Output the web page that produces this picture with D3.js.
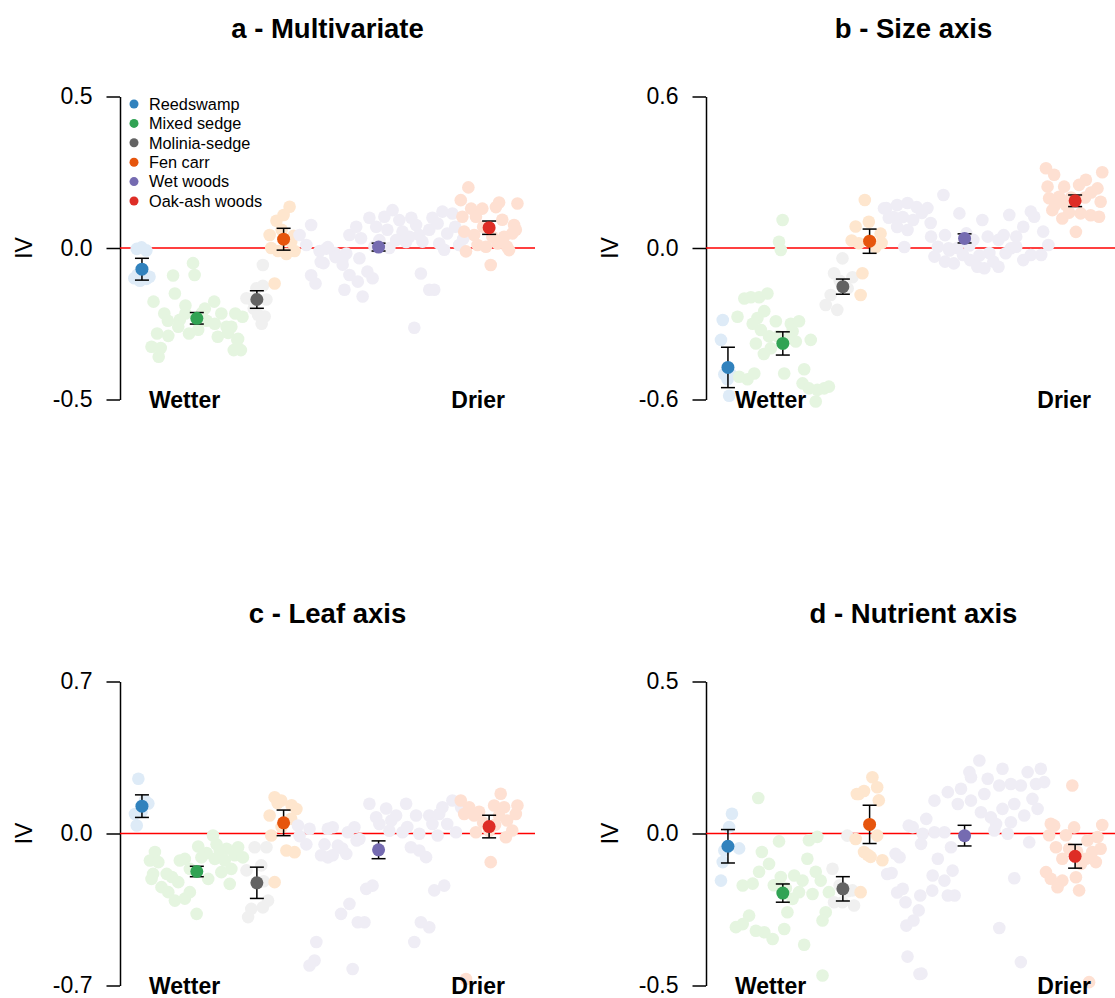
<!DOCTYPE html>
<html>
<head>
<meta charset="utf-8">
<script src="https://cdn.jsdelivr.net/npm/d3@7"></script>
<style>
body { margin: 0; background: #fff; }
svg { display: block; font-family: "Liberation Sans", Arial, Helvetica, sans-serif; }
</style>
</head>
<body>
<div id="chart"></div>
<script>
// community types, in the order they are drawn
var groups = ["Reedswamp", "Mixed sedge", "Molinia-sedge", "Fen carr", "Wet woods", "Oak-ash woods"];
var darkColors = ["#3182bd", "#31a354", "#636363", "#e6550d", "#756bb1", "#de2d26"];
var lightColors = ["#deebf7", "#e5f5e0", "#f0f0f0", "#fee6ce", "#efedf5", "#fee0d2"];

// position of each group mean along the wetness gradient
var meanX = [5.5, 19.25, 34.3, 41, 64.8, 92.5];

// a - Multivariate : site points [gradient position, IV]
var aReed = [[4.2,-0.003],[5.4,0.002],[6.6,-0.008],[3.6,-0.1],[5.0,-0.108],[6.6,-0.102],[7.4,-0.095],[4.4,-0.088]];
var aMixed = [[18.3,-0.05],[18.7,-0.089],[13.3,-0.091],[13.75,-0.15],[8.4,-0.177],[11.1,-0.216],[12,-0.24],[15,-0.237],[16.4,-0.19],
  [9.3,-0.282],[12.1,-0.29],[7.9,-0.326],[9.7,-0.359],[10.2,-0.33],[17.3,-0.282],[19.6,-0.27],[21.25,-0.2],[23.6,-0.177],[25.4,-0.216],
  [26.7,-0.26],[27.9,-0.26],[29.6,-0.3],[29.4,-0.304],[24.5,-0.293],[28.9,-0.216],[30.7,-0.227],[21.7,-0.24],[23.75,-0.25],[27.1,-0.28],
  [14.6,-0.26],[16.4,-0.216],[20.5,-0.215],[28.5,-0.337],[30.3,-0.337]];
var aMolinia = [[35.8,-0.056],[34.2,-0.133],[35.8,-0.125],[31.7,-0.166],[33,-0.17],[36.7,-0.17],[34.6,-0.221],[36.25,-0.226],[35.5,-0.25],[33.5,-0.2]];
var aFen = [[42.5,0.136],[41,0.109],[39.2,0.09],[37.5,0.043],[37.9,0.0],[39.6,-0.01],[41.7,-0.02],[43.75,-0.01],[42.9,0.02],[38.75,-0.117],[40.5,0.06],[43.5,0.04]];
var aWet = [[47.9,0.076],[45,0.043],[46.7,0.01],[50,-0.01],[51,-0.05],[47.9,-0.09],[49,-0.117],[50.3,-0.046],[52.1,0.003],[53.9,-0.017],[55.7,-0.04],
  [51.7,-0.002],[54,-0.03],[56.7,-0.018],[55.8,-0.055],[60,-0.034],[57.5,-0.089],[59.6,-0.111],[62,-0.078],[63.3,-0.1],[56.25,-0.138],
  [60.8,-0.16],[75.4,-0.084],[77.5,-0.138],[78.75,-0.138],[73.75,-0.263],[57.5,0.043],[60.4,0.032],[59.2,0.07],[62.5,0.1],[64.2,0.07],
  [66.25,0.103],[68.3,0.125],[70,0.092],[67,0.06],[70.8,0.054],[72.5,0.037],[74.2,0.076],[75,0.043],[77.5,0.06],[79.6,0.081],[80.8,0.12],
  [83.3,0.114],[82,0.048],[80,0.015],[81.25,-0.006],[85,0.01],[69.2,0.026],[71.7,0.02],[75.8,0.021],[65,0.026],[67.5,0.0],[63.75,0.005],
  [73,0.1],[78.3,0.1],[84,0.07],[86,0.03]];
var aOak = [[87.3,0.2],[85.4,0.158],[88,0.13],[90.8,0.13],[95,0.15],[99.6,0.147],[94.2,0.135],[85.8,0.103],[89.2,0.103],[95.8,0.093],
  [98.75,0.076],[86.25,0.054],[88.75,0.043],[93.3,0.037],[96.25,0.037],[98.3,0.048],[89.6,0.01],[91.7,0.004],[94.6,0.015],[97,0.004],
  [86.7,-0.011],[97.5,-0.007],[92.9,-0.056],[91,0.07],[99.2,0.06]];
var aMeans = [-0.07, -0.232, -0.17, 0.029, 0.003, 0.067];
var aErr = [0.036, 0.019, 0.029, 0.036, 0.013, 0.022];

// b - Size axis
var bReed = [[4.2,-0.285],[3.75,-0.364],[4.6,-0.5],[5.4,-0.52],[5.8,-0.585],[6.2,-0.5]];
var bMixed = [[19.2,0.111],[18.3,0.025],[18.75,-0.008],[9.6,-0.2],[11.25,-0.195],[13.3,-0.195],[15.4,-0.18],[7.9,-0.272],[14.6,-0.25],
  [12.9,-0.277],[11.7,-0.3],[17.5,-0.29],[21.25,-0.3],[23.3,-0.29],[13.75,-0.325],[15.8,-0.35],[12.5,-0.378],[21.7,-0.33],[22.5,-0.37],
  [26.25,-0.364],[16.25,-0.397],[19.6,-0.497],[8.3,-0.51],[10.4,-0.52],[12.1,-0.497],[24.6,-0.48],[24.2,-0.536],[25.8,-0.556],[27.9,-0.562],
  [29.6,-0.556],[30.8,-0.549],[27.5,-0.608],[18,-0.35],[20.5,-0.36],[14.5,-0.42]];
var bMolinia = [[34.2,-0.041],[32.1,-0.1],[36.7,-0.116],[31.25,-0.186],[32.9,-0.245],[30,-0.226],[35.5,-0.16],[33.5,-0.13]];
var bFen = [[39.8,0.19],[40.8,0.104],[37.5,0.085],[43.75,0.057],[38.3,0.019],[42.5,0.004],[39.2,-0.1],[38.75,-0.186],[41,0.03],[44,0.02],[36.5,0.03]];
var bWet = [[45.2,0.158],[47.9,0.17],[50.5,0.178],[52.8,0.162],[55.5,0.158],[54.1,0.139],[49.3,0.123],[47,0.123],[51.9,0.111],[56.3,0.099],
  [47.9,0.083],[50.5,0.071],[49.7,0.004],[44.6,0.157],[45.8,0.12],[59.5,0.21],[56.4,0.045],[59.9,0.051],[58.1,0.005],[60.8,-0.001],
  [57.25,-0.034],[59.9,-0.054],[62.1,-0.061],[64.4,-0.028],[66.2,-0.048],[68,-0.074],[69.75,-0.08],[72,-0.054],[73.3,-0.074],[75.1,-0.021],
  [76.4,-0.001],[77.75,0.005],[79.5,-0.048],[81.4,-0.028],[84,-0.028],[85.8,0.012],[84.5,0.065],[82.25,0.124],[79.5,0.084],[81.4,0.144],
  [76,0.131],[69.25,0.111],[63.5,0.137],[65.25,0.058],[67,0.032],[70.6,0.045],[73.3,0.032],[74.6,0.051],[77.75,0.045],[61,-0.01],
  [63,0.0],[66,0.01],[71,-0.02],[68.5,-0.03]];
var bOak = [[85.2,0.316],[87.25,0.29],[99.3,0.3],[95.2,0.27],[85.6,0.243],[89.75,0.243],[93.5,0.25],[98.1,0.236],[86,0.197],[88.5,0.203],
  [90.2,0.17],[98.9,0.183],[86.8,0.15],[89.3,0.117],[93.9,0.137],[96.4,0.13],[98.5,0.124],[92.7,0.064],[91.5,0.2],[95,0.2],[87.5,0.17],
  [96.5,0.22],[91,0.14]];
var bMeans = [-0.473, -0.378, -0.153, 0.027, 0.038, 0.187];
var bErr = [0.08, 0.046, 0.03, 0.048, 0.018, 0.023];

// c - Leaf axis
var cReed = [[4.6,0.252],[6.25,0.152],[7.1,0.138],[3.75,0.09],[4.2,0.037],[5.4,0.1]];
var cMixed = [[23.3,-0.009],[24.2,-0.05],[19.6,-0.06],[21.7,-0.09],[26.7,-0.07],[29.6,-0.063],[8.75,-0.085],[7.5,-0.124],[9.6,-0.132],
  [15,-0.124],[16.25,-0.117],[20.4,-0.11],[23.75,-0.117],[26.25,-0.124],[28.75,-0.1],[30.8,-0.11],[8.3,-0.186],[7.9,-0.209],[11.7,-0.186],
  [14.6,-0.224],[17.5,-0.163],[22.1,-0.209],[25.4,-0.178],[27.9,-0.163],[27.5,-0.232],[10.4,-0.247],[12.1,-0.27],[13.75,-0.309],
  [16.25,-0.3],[17.5,-0.27],[19.2,-0.37],[13,-0.2],[25,-0.08]];
var cMolinia = [[33.75,-0.063],[36.7,-0.063],[35.4,-0.147],[31.7,-0.17],[37.1,-0.309],[35.8,-0.34],[32.9,-0.347],[32.1,-0.385],[36,-0.22]];
var cFen = [[38.75,0.167],[40.4,0.152],[44.2,0.113],[37.5,0.083],[42.9,0.068],[37.9,-0.009],[41.7,-0.078],[43.75,-0.086],[38.75,-0.224],
  [39.5,0.14],[43,0.13],[40.5,0.03]];
var cWet = [[44.6,0.037],[47.5,0.022],[45,-0.012],[46.7,-0.05],[52.1,0.022],[51.25,-0.05],[50.4,-0.1],[52.1,-0.11],[49.2,-0.5],
  [48.75,-0.585],[47.5,-0.608],[62.5,0.137],[66.7,0.115],[71.7,0.137],[64.2,0.075],[69.2,0.083],[74.2,0.083],[77.5,0.083],[80.8,0.121],
  [83.3,0.152],[53.3,0.029],[58.75,0.029],[57.1,0.006],[60,-0.025],[67.5,0.013],[70.8,0.006],[75,-0.001],[79.6,-0.009],[84.2,0.006],
  [65,0.044],[78.3,0.044],[82,0.044],[53.3,-0.1],[56.7,-0.094],[54.6,-0.055],[72.9,-0.063],[75,-0.078],[76.7,-0.109],[61.7,-0.255],
  [63.3,-0.24],[78.75,-0.262],[81.25,-0.24],[55.4,-0.37],[57.5,-0.324],[59.6,-0.409],[61.25,-0.409],[75.4,-0.409],[77.5,-0.432],
  [73.75,-0.5],[58.3,-0.624],[68,0.06],[72,0.03],[80,0.09],[85.5,0.12],[55.7,-0.069],[59.3,-0.032]];
var cOak = [[85.4,0.152],[87.5,0.121],[95.4,0.183],[93.75,0.129],[96.25,0.121],[99.6,0.129],[99.2,0.09],[86.25,0.09],[88.75,0.083],
  [95,0.083],[97,0.06],[98.3,0.014],[89.2,0.006],[92.5,0.013],[96.7,-0.017],[92.9,-0.132],[86.7,-0.67],[91,0.05],[94,0.04],[90,0.1]];
var cMeans = [0.126, -0.175, -0.227, 0.049, -0.075, 0.032];
var cErr = [0.052, 0.024, 0.072, 0.059, 0.041, 0.052];

// d - Nutrient axis
var dReed = [[6.5,0.065],[5.8,0.021],[4.6,-0.056],[4.2,-0.094],[3.75,-0.155],[8.3,-0.049]];
var dMixed = [[13.1,0.117],[18.3,-0.026],[25.8,-0.022],[27.9,-0.011],[14,-0.061],[25.4,-0.083],[15.8,-0.1],[13.3,-0.126],[18.75,-0.143],
  [22.1,-0.138],[24.2,-0.155],[27.5,-0.126],[28.75,-0.155],[9.2,-0.171],[11.7,-0.165],[23.3,-0.193],[26.7,-0.199],[30.8,-0.193],
  [21.7,-0.215],[20.4,-0.259],[30,-0.259],[29.2,-0.286],[10.8,-0.27],[9.2,-0.298],[7.5,-0.308],[12.5,-0.32],[14.6,-0.325],[16.7,-0.347],
  [19.6,-0.314],[24.6,-0.366],[29.2,-0.467],[17,-0.17],[20,-0.18]];
var dMolinia = [[35.4,-0.007],[31.7,-0.116],[36.7,-0.187],[34.2,-0.226],[37.1,-0.237],[32.1,-0.226],[33.5,-0.17],[35.5,-0.19]];
var dFen = [[41.7,0.185],[42.9,0.152],[38.3,0.13],[39.6,0.14],[43.3,0.109],[37.5,-0.018],[42.9,-0.007],[39.6,-0.061],[41.25,-0.077],
  [44.2,-0.088],[38.75,-0.193],[40.5,-0.07],[37.8,0.13]];
var dWet = [[47.5,-0.067],[45.4,-0.133],[50,-0.226],[50.2,-0.303],[50.8,0.026],[46.5,-0.13],[47.9,-0.194],[53.7,-0.204],[56.7,-0.188],
  [53.3,-0.253],[52,-0.286],[50.5,-0.405],[54,-0.461],[62.3,-0.204],[68.5,0.24],[66,0.202],[66.4,0.185],[74.3,0.213],[70.6,0.18],
  [80.6,0.202],[83.9,0.213],[84.75,0.169],[73.5,0.158],[76.4,0.163],[78.9,0.158],[82.7,0.163],[57.25,0.108],[60.6,0.136],[63.9,0.147],
  [63.1,0.097],[66.4,0.108],[69.75,0.13],[74.3,0.081],[77.25,0.097],[81.8,0.114],[68.9,0.07],[71.4,0.053],[72.7,0.031],[83.1,0.081],
  [76.4,0.037],[79.75,0.059],[55.2,0.048],[51.8,0.021],[54.3,-0.001],[57.25,0.004],[59.75,0.004],[72.25,0.01],[75.6,-0.001],[53.9,-0.034],
  [61.4,-0.045],[81,-0.029],[48.5,-0.078],[58.1,-0.083],[61.8,-0.122],[56.8,-0.138],[59.75,-0.155],[77.25,-0.147],[49.3,-0.182],
  [60.6,-0.204],[73.5,-0.311],[53.5,-0.462],[78.9,-0.423]];
var dOak = [[91.8,0.158],[86.4,0.032],[87.25,0.026],[92.25,0.02],[99.3,0.028],[86,-0.006],[90.2,-0.006],[95.6,-0.023],[98.1,-0.012],
  [87.7,-0.045],[89.3,-0.083],[96.8,-0.061],[98.9,-0.05],[95.2,-0.083],[97.7,-0.094],[85.2,-0.127],[86.4,-0.149],[89.3,-0.155],
  [88.1,-0.177],[92.7,-0.144],[93.5,-0.187],[96,-0.489],[91,-0.05],[94,-0.1],[93,-0.06]];
var dMeans = [-0.042, -0.196, -0.182, 0.03, -0.007, -0.075];
var dErr = [0.055, 0.03, 0.04, 0.063, 0.034, 0.039];

var titles = ["a - Multivariate", "b - Size axis", "c - Leaf axis", "d - Nutrient axis"];
var limits = [0.5, 0.6, 0.7, 0.5];

function init(){

    var w = 1115;
    var h = 998;

    var svg = d3.select("#chart")
        .append("svg")
        .attr("width", w)
        .attr("height", h);

    var panels = [
        {points: [aReed, aMixed, aMolinia, aFen, aWet, aOak], means: aMeans, err: aErr, left: 120, top: 96.5, bottom: 399.5},
        {points: [bReed, bMixed, bMolinia, bFen, bWet, bOak], means: bMeans, err: bErr, left: 706, top: 96.5, bottom: 399.5},
        {points: [cReed, cMixed, cMolinia, cFen, cWet, cOak], means: cMeans, err: cErr, left: 120, top: 681.5, bottom: 985.5},
        {points: [dReed, dMixed, dMolinia, dFen, dWet, dOak], means: dMeans, err: dErr, left: 706, top: 681.5, bottom: 985.5}
    ];

    var plotW = 415;
    var x = d3.scaleLinear().domain([0, 104]).range([0, plotW]);

    panels.forEach(function(p, i) {
        var lim = limits[i];
        var y = d3.scaleLinear().domain([-lim, lim]).range([p.bottom, p.top]);
        var g = svg.append("g").attr("transform", "translate(" + p.left + ",0)");

        // title
        g.append("text")
            .attr("x", plotW / 2)
            .attr("y", p.top - 59)
            .attr("text-anchor", "middle")
            .attr("font-size", "27.5px")
            .attr("font-weight", "bold")
            .text(titles[i]);

        // y axis, R style: line only between first and last tick
        var axis = d3.axisLeft(y)
            .tickValues([-lim, 0, lim])
            .tickSize(13.5)
            .tickSizeOuter(0)
            .tickPadding(14)
            .tickFormat(function(d) { return d.toFixed(1); });
        var ax = g.append("g").call(axis);
        ax.selectAll("path, line").attr("stroke", "#000").attr("stroke-width", 1.5);
        ax.selectAll("text")
            .attr("font-size", "23px")
            .attr("fill", "#000")
            .attr("font-family", "'Liberation Sans', Arial, Helvetica, sans-serif");

        // y label
        g.append("text")
            .attr("transform", "translate(-88," + y(0) + ") rotate(-90)")
            .attr("text-anchor", "middle")
            .attr("font-size", "23px")
            .text("IV");

        // zero line
        g.append("line")
            .attr("x1", x(0)).attr("x2", x(104))
            .attr("y1", y(0)).attr("y2", y(0))
            .attr("stroke", "#ff0000")
            .attr("stroke-width", 1.6);

        // site points
        p.points.forEach(function(pts, k) {
            g.append("g").selectAll("circle")
                .data(pts)
                .enter()
                .append("circle")
                .attr("cx", function(d) { return x(d[0]); })
                .attr("cy", function(d) { return y(d[1]); })
                .attr("r", 6.3)
                .attr("fill", lightColors[k]);
        });

        // means with error bars
        var cap = 7;
        p.means.forEach(function(m, k) {
            var cx = x(meanX[k]);
            var lo = y(m - p.err[k]), hi = y(m + p.err[k]);
            var eb = g.append("g").attr("stroke", "#000").attr("stroke-width", 1.5);
            eb.append("line").attr("x1", cx).attr("x2", cx).attr("y1", lo).attr("y2", hi);
            eb.append("line").attr("x1", cx - cap).attr("x2", cx + cap).attr("y1", lo).attr("y2", lo);
            eb.append("line").attr("x1", cx - cap).attr("x2", cx + cap).attr("y1", hi).attr("y2", hi);
            g.append("circle")
                .attr("cx", cx)
                .attr("cy", y(m))
                .attr("r", 6.5)
                .attr("fill", darkColors[k]);
        });

        // gradient labels
        g.append("text")
            .attr("x", 29)
            .attr("y", p.bottom + 8)
            .attr("font-size", "23px")
            .attr("font-weight", "bold")
            .text("Wetter");
        g.append("text")
            .attr("x", 385)
            .attr("y", p.bottom + 8)
            .attr("text-anchor", "end")
            .attr("font-size", "23px")
            .attr("font-weight", "bold")
            .text("Drier");

        // legend in the first panel
        if (i === 0) {
            var leg = g.append("g");
            groups.forEach(function(name, k) {
                var ly = 104 + k * 19.4;
                leg.append("circle")
                    .attr("cx", 14).attr("cy", ly).attr("r", 4.5)
                    .attr("fill", darkColors[k]);
                leg.append("text")
                    .attr("x", 29).attr("y", ly)
                    .attr("dy", "0.35em")
                    .attr("font-size", "16.3px")
                    .text(name);
            });
        }
    });
}
window.onload = init;
</script>
</body>
</html>
